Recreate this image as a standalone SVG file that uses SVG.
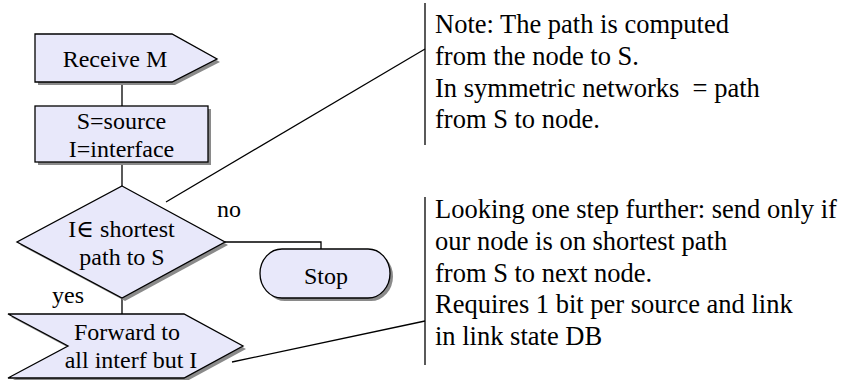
<svg xmlns="http://www.w3.org/2000/svg" width="844" height="380" viewBox="0 0 844 380">
<style>
.shape{fill:#e8e8fa;stroke:#000;stroke-width:1.3}
.shadow{fill:#8a8a8a;stroke:none}
text{font-family:'Liberation Serif','Times New Roman','DejaVu Serif',serif;fill:#000}
.lbl{font-size:24px}
.mid{text-anchor:middle}
.note{font-size:26.5px;white-space:pre}
.ln{fill:none;stroke:#000;stroke-width:1.3}
</style>
<rect width="844" height="380" fill="#fff"/>
<g id="connectors">
<path class="ln" d="M122,82 V106"/>
<path class="ln" d="M122,162 V186"/>
<path class="ln" d="M225,242 H321 V249"/>
<path class="ln" d="M122,298 V314"/>
<path class="ln" d="M166,202 L425,49"/>
<path class="ln" d="M232,362 L425,321"/>
</g>
<g id="receive">
<polygon class="shadow" points="38,37 175,37 220,62 175,85 38,85"/>
<polygon class="shape" points="35,34 172,34 217,59 172,82 35,82"/>
<text class="lbl mid" x="115" y="67" font-family="Liberation Serif, serif">Receive M</text>
</g>
<g id="assign">
<rect class="shadow" x="38" y="109" width="173" height="56"/>
<rect class="shape" x="35" y="106" width="173" height="56"/>
<text class="lbl mid" x="121.5" y="129">S=source</text>
<text class="lbl mid" x="121.5" y="157">I=interface</text>
</g>
<g id="decision">
<polygon class="shadow" points="125,189 228,245 125,301 20,245"/>
<polygon class="shape" points="122,186 225,242 122,298 17,242"/>
<text class="lbl mid" x="121.5" y="237">I∈ shortest</text>
<text class="lbl mid" x="122" y="265">path to S</text>
</g>
<g id="labels">
<text class="lbl" x="217" y="217">no</text>
<text class="lbl" x="52" y="303">yes</text>
</g>
<g id="stop">
<path class="shadow" d="M285,252 H371 A22,24.5 0 0 1 371,301 H285 A22,24.5 0 0 1 285,252 Z"/>
<path class="shape" d="M282,249 H368 A22,24.5 0 0 1 368,298 H282 A22,24.5 0 0 1 282,249 Z"/>
<text class="lbl mid" x="326" y="284">Stop</text>
</g>
<g id="forward">
<polygon class="shadow" points="11,317 187,317 246,349 187,381 11,381 71,349"/>
<polygon class="shape" points="8,314 184,314 243,346 184,378 8,378 68,346"/>
<text class="lbl mid" x="127" y="340">Forward to</text>
<text class="lbl mid" x="131" y="368">all interf but I</text>
</g>
<g id="note1">
<path class="ln" d="M425,3 V145"/>
<text class="note" x="435" y="33">Note: The path is computed</text>
<text class="note" x="435" y="65">from the node to S.</text>
<text class="note" x="435" y="97">In symmetric networks  = path</text>
<text class="note" x="435" y="128">from S to node.</text>
</g>
<g id="note2">
<path class="ln" d="M425,197 V365"/>
<text class="note" x="435" y="218">Looking one step further: send only if</text>
<text class="note" x="435" y="250">our node is on shortest path</text>
<text class="note" x="435" y="282">from S to next node.</text>
<text class="note" x="435" y="313">Requires 1 bit per source and link</text>
<text class="note" x="435" y="345">in link state DB</text>
</g>
</svg>
